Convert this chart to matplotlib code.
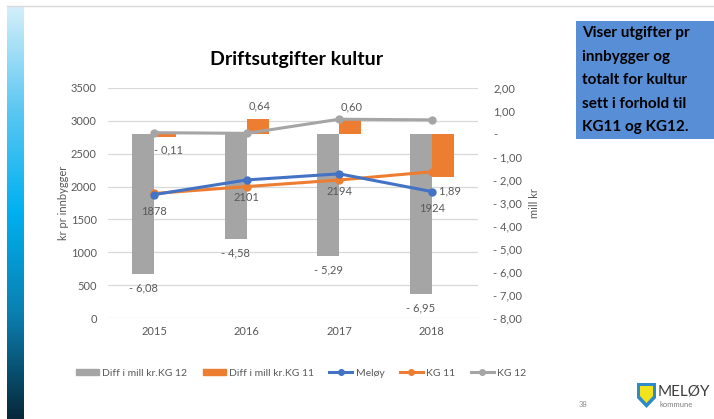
import matplotlib.pyplot as plt
import numpy as np
from matplotlib.patches import Rectangle, Polygon
from matplotlib.lines import Line2D
from matplotlib.colors import LinearSegmentedColormap

# --- Data ---
YEARS = ["2015", "2016", "2017", "2018"]
DIFF_KG12 = [-6.08, -4.58, -5.29, -6.95]   # mill kr
DIFF_KG11 = [-0.11, 0.64, 0.60, -1.89]     # mill kr
MELOY = [1878, 2101, 2194, 1924]           # kr pr innbygger
KG11 = [1895, 2000, 2100, 2225]
KG12 = [2820, 2810, 3025, 3015]

GREY = "#A5A5A5"
ORANGE = "#ED7D31"
BLUE = "#4472C4"
TXT = "#595959"
FONT = "Lato"

plt.rcParams['font.family'] = [FONT, 'DejaVu Sans']


def nok(v, dec=2):
    # Excel-style: "- 6,08", "0,64", "-" for zero
    if abs(v) < 1e-9:
        return "-"
    s = f"{abs(v):.{dec}f}".replace(".", ",")
    return ("- " + s) if v < 0 else s


W, H = 714, 419
fig = plt.figure(figsize=(W / 100, H / 100), dpi=100)
fig.patch.set_facecolor("white")

# --- slide decorations ---
grad = LinearSegmentedColormap.from_list("bar", ["#D6EFFA", "#5CC8F2", "#00B0F0", "#0A7FAF", "#06283A"])
bar_ax = fig.add_axes([7 / W, 0, 17 / W, 1 - 6 / H])
bar_ax.imshow(np.linspace(0, 1, 256)[:, None], aspect="auto", cmap=grad)
bar_ax.axis("off")
fig.add_artist(Line2D([7 / W, 1], [1 - 6 / H, 1 - 6 / H], color="#D9D9D9", lw=1))

# text box
fig.patches.append(Rectangle((576 / W, 1 - 139 / H), 138 / W, 118 / H,
                             transform=fig.transFigure, facecolor="#578ED6", edgecolor="none"))
box_lines = ["Viser utgifter pr", "innbygger og", "totalt for kultur", "sett i forhold til", "KG11 og KG12."]
for k, line in enumerate(box_lines):
    fig.text(582 / W, 1 - (33 + k * 23.5) / H, line, fontsize=11, fontweight="bold",
             color="black", va="center", ha="left")

# page number + logo
fig.text(583 / W, 1 - 404 / H, "38", fontsize=5.5, color="#8C8C8C", ha="center", va="center")
fig.patches.append(Polygon([(637 / W, 1 - 383 / H), (656 / W, 1 - 383 / H), (656 / W, 1 - 398 / H),
                            (646.5 / W, 1 - 408 / H), (637 / W, 1 - 398 / H)], closed=True,
                           transform=fig.transFigure, facecolor="#2E8BC9", edgecolor="none"))
fig.patches.append(Polygon([(640 / W, 1 - 386 / H), (653 / W, 1 - 386 / H), (653 / W, 1 - 396 / H),
                            (646.5 / W, 1 - 403 / H), (640 / W, 1 - 396 / H)], closed=True,
                           transform=fig.transFigure, facecolor="#F2E21C", edgecolor="none"))
fig.text(658 / W, 1 - 391 / H, "MELØY", fontsize=11, color="#404040", ha="left", va="center")
fig.text(659 / W, 1 - 404 / H, "kommune", fontsize=5.5, color="#808080", ha="left", va="center")

# --- chart ---
rect = [108 / W, 1 - 318 / H, 370 / W, 230 / H]
ax = fig.add_axes(rect)          # left scale, gridlines
ax2 = ax.twinx()                 # right scale, bars
ax3 = ax.twinx()                 # left scale, lines on top
x = np.arange(len(YEARS))

ax.set_xlim(-0.5, 3.5)
ax.set_ylim(0, 3500)
ax.set_yticks(np.arange(0, 3501, 500))
ax.yaxis.grid(True, color="#D9D9D9", lw=0.9)
ax.set_axisbelow(True)
ax.tick_params(axis="y", length=0, labelsize=8, labelcolor=TXT, pad=8)
ax.tick_params(axis="x", length=0, labelsize=8, labelcolor=TXT, pad=6)
ax.set_xticks(x)
ax.set_xticklabels(YEARS)
ax.set_ylabel("kr pr innbygger", fontsize=8, color=TXT, labelpad=1)
for s in ax.spines.values():
    s.set_visible(False)

bw = 0.238
ax2.set_ylim(-8, 2)
ax2.set_yticks(np.arange(-8, 2.01, 1))
ax2.set_yticklabels([nok(v) for v in np.arange(-8, 2.01, 1)])
ax2.tick_params(axis="y", length=0, labelsize=8, labelcolor=TXT, pad=11)
ax2.set_ylabel("mill kr", fontsize=8, color=TXT, labelpad=5)
for s in ax2.spines.values():
    s.set_visible(False)
ax2.bar(x - bw / 2, DIFF_KG12, width=bw, color=GREY)
ax2.bar(x + bw / 2, DIFF_KG11, width=bw, color=ORANGE)
for i, v in enumerate(DIFF_KG12):
    ax2.annotate(nok(v), (x[i] - bw / 2, v), xytext=(0, -10), textcoords="offset points",
                 ha="center", va="center", fontsize=8, color=TXT)
for i, v in enumerate(DIFF_KG11):
    off = 9.5 if v > 0 else -10
    dx = 1 if v > 0 else 2.5
    ax2.annotate(nok(v), (x[i] + bw / 2, v), xytext=(dx, off), textcoords="offset points",
                 ha="center", va="center", fontsize=8, color=TXT)

ax3.set_ylim(0, 3500)
ax3.set_yticks([])
for s in ax3.spines.values():
    s.set_visible(False)
ax3.plot(x, KG12, color=GREY, lw=2.2, marker="o", ms=5)
ax3.plot(x, KG11, color=ORANGE, lw=2.2, marker="o", ms=5)
ax3.plot(x, MELOY, color=BLUE, lw=2.2, marker="o", ms=5)
for i, v in enumerate(MELOY):
    ax3.annotate(str(v), (x[i], v), xytext=(0, -12.5), textcoords="offset points",
                 ha="center", va="center", fontsize=8, color=TXT)

fig.text(297 / W, 1 - 60 / H, "Driftsutgifter kultur", fontsize=14, fontweight="bold",
         color="black", ha="center", va="center")

handles = [Rectangle((0, 0), 1, 1, color=GREY), Rectangle((0, 0), 1, 1, color=ORANGE),
           Line2D([], [], color=BLUE, lw=2.2, marker="o", ms=4),
           Line2D([], [], color=ORANGE, lw=2.2, marker="o", ms=4),
           Line2D([], [], color=GREY, lw=2.2, marker="o", ms=4)]
labels = ["Diff i mill kr.KG 12", "Diff i mill kr.KG 11", "Meløy", "KG 11", "KG 12"]
fig.legend(handles, labels, loc="center", bbox_to_anchor=(301 / W, 1 - 373 / H), ncol=5,
           frameon=False, fontsize=7.5, labelcolor=TXT, handlelength=2.2, handleheight=0.6,
           handletextpad=0.3, columnspacing=1.5)

fig.savefig("out.png", dpi=100)
